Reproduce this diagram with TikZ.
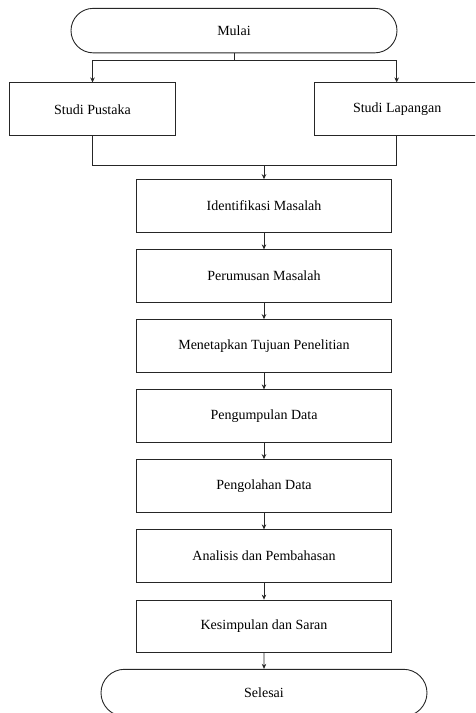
\documentclass[tikz,border=0pt]{standalone}
\usepackage{fontspec}
\setmainfont{Liberation Serif}
\usetikzlibrary{arrows.meta,shapes.misc}
\tikzset{
  stepbox/.style={draw=black!85, line width=0.9pt, rectangle, inner sep=0pt,
    minimum width=255.5pt, minimum height=52.5pt, font=\fontsize{14}{16}\selectfont},
  sidebox/.style={stepbox, minimum width=166pt, minimum height=53pt},
  terminal/.style={draw=black!85, line width=0.9pt, rounded rectangle, inner sep=0pt,
    minimum width=326pt, minimum height=44.5pt, font=\fontsize{14}{16}\selectfont},
  link/.style={draw=black!85, line width=0.9pt},
  arr/.style={link, -{Stealth[length=5pt,width=4.5pt]}}
}
\begin{document}
\begin{tikzpicture}[x=1pt,y=-1pt]
\useasboundingbox (0,0) rectangle (475,713);
\clip (0,0) rectangle (475,713);
% start and end terminals
\node[terminal] (mulai) at (234,30.6) {Mulai};
\node[terminal, minimum height=47pt] (selesai) at (264,692.8) {Selesai};
% two parallel studies; the right box runs on past the page edge,
% its label centred on the visible 165pt part
\node[sidebox, minimum width=166.4pt] (pustaka) at (92.5,109.4) {Studi Pustaka};
\node[sidebox, anchor=west] (lapangan) at (314,109.4)
  {\makebox[240pt][l]{\makebox[165.4pt]{Studi Lapangan}}};
\coordinate (lapangan-in) at (lapangan.north west -| 396.7,0);
\coordinate (lapangan-out) at (lapangan.south west -| 396.7,0);
% main sequence
\node[stepbox] (s1) at (264,205.9) {Identifikasi Masalah};
\node[stepbox] (s2) at (264,276.1) {Perumusan Masalah};
\node[stepbox] (s3) at (264,345.9) {Menetapkan Tujuan Penelitian};
\node[stepbox] (s4) at (264,416.1) {Pengumpulan Data};
\node[stepbox] (s5) at (264,485.9) {Pengolahan Data};
\node[stepbox] (s6) at (264,556.1) {Analisis dan Pembahasan};
\node[stepbox] (s7) at (264,626.3) {Kesimpulan dan Saran};
% branching after the start
\coordinate (split) at (234,60.7);
\draw[link] (mulai.south) -- (split);
\draw[arr] (split) -| (pustaka.north);
\draw[arr] (split) -| (lapangan-in);
% joining before the main sequence
\coordinate (merge) at (264,165.5);
\draw[link] (pustaka.south) |- (merge);
\draw[link] (lapangan-out) |- (merge);
\draw[arr] (merge) -- (s1.north);
\draw[arr] (s1) -- (s2);
\draw[arr] (s2) -- (s3);
\draw[arr] (s3) -- (s4);
\draw[arr] (s4) -- (s5);
\draw[arr] (s5) -- (s6);
\draw[arr] (s6) -- (s7);
\draw[arr] (s7) -- (selesai);
\end{tikzpicture}
\end{document}
